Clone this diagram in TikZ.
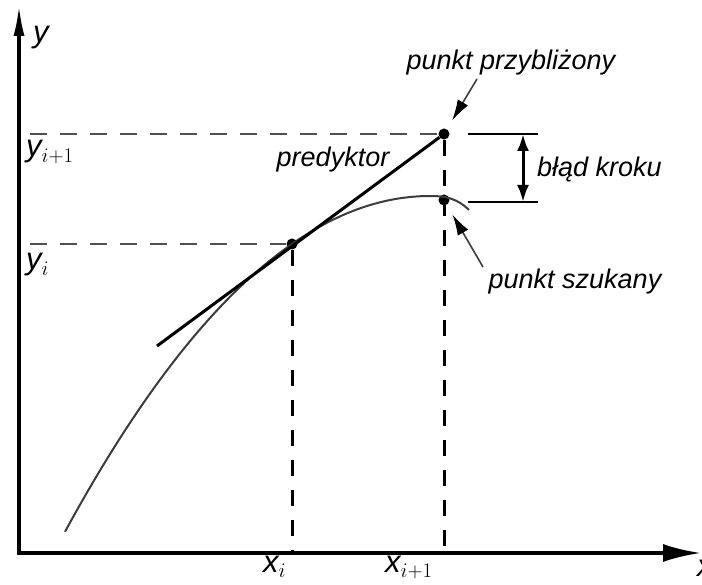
\documentclass[tikz,border=0pt]{standalone}
\usepackage{fontspec}
\setmainfont{Liberation Sans}
\usetikzlibrary{arrows.meta,calc}
\definecolor{curvec}{RGB}{60,60,60}
\definecolor{dashc}{RGB}{80,80,80}
\definecolor{ptrc}{RGB}{60,60,60}
\tikzset{
  txt/.style={font=\fontsize{27}{32}\selectfont\itshape, inner sep=0pt},
  axlbl/.style={font=\fontsize{31}{35}\selectfont\itshape, inner sep=0pt},
  dot/.style={circle, fill=black, inner sep=0pt, minimum size=11pt},
  hdash/.style={dashc, line width=1.8pt, dash pattern=on 17pt off 13pt},
  vdash/.style={black, line width=3pt, dash pattern=on 16pt off 14pt},
  ptr/.style={ptrc, line width=1.6pt, -{Latex[length=21pt,width=12pt,color=black]}},
}

\begin{document}
\begin{tikzpicture}[x=1pt, y=-1pt]
\useasboundingbox (0,0) rectangle (702,585);

% ------------------------------------------------- axes
\coordinate (O) at (19,553);
\coordinate (Ytip) at (19,4);
\coordinate (Xtip) at (701,553);
\draw[line width=3.6pt, {Latex[length=32pt,width=11pt]}-{Latex[length=38pt,width=18pt]}]
  (Ytip) -- (O) -- (Xtip);
\node[axlbl, anchor=base west] (ylab) at (33,43) {y};
\node[axlbl, anchor=base west] (xlab) at (697,576) {x};

% ------------------------------------------------- points
\node[dot] (A) at (292,244) {};
\node[dot] (P) at (444,134) {};
\node[dot] (S) at (444,200) {};

% ------------------------------------------------- guides
\coordinate (Yi1) at (30,134);
\coordinate (Yi) at (30,244);
\draw[hdash] (Yi1) -- (P);
\draw[hdash] (Yi) -- (A);
\draw[vdash] (A) -- (A |- O);
\draw[vdash] (P) -- (P |- O);
\node[axlbl, anchor=base west] (yi1lab) at (26,157) {y$_{i+1}$};
\node[axlbl, anchor=base west] (yilab) at (26,270) {y$_{i}$};
\node[axlbl, anchor=base west] (xilab) at (263,572) {x$_{i}$};
\node[axlbl, anchor=base west] (xi1lab) at (385,572) {x$_{i+1}$};

% ------------------------------------------------- curve and tangent
\draw[curvec, line width=2pt] plot[domain=65:469, samples=90]
  (\x, {196+(0.0502*(\x-430))^2+(0.0553*max(0,\x-430))^3});
\coordinate (T0) at (157,346);
\draw[line width=3pt] (T0) -- (P);
\node[txt, anchor=base] (pred) at (333,167) {predyktor};

% ------------------------------------------------- step error
\coordinate (E1a) at (468,134);
\coordinate (E1b) at (538,134);
\coordinate (E2a) at (468,202);
\coordinate (E2b) at (538,202);
\draw[line width=1.6pt] (E1a) -- (E1b);
\draw[line width=1.6pt] (E2a) -- (E2b);
\draw[line width=3pt, {Latex[length=17pt,width=12pt]}-{Latex[length=17pt,width=12pt]}]
  ($(E1b)+(-15,0)$) -- ($(E2b)+(-15,0)$);
\node[txt, anchor=base west] (err) at (537,177) {błąd kroku};

% ------------------------------------------------- pointers
\node[txt, anchor=base] (approx) at (511,70) {punkt przybliżony};
\node[txt, anchor=base] (sought) at (575,289) {punkt szukany};
\coordinate (pa) at (477,79);
\coordinate (ps) at (483,267);
\draw[ptr, shorten >=10pt] (pa) -- (P);
\draw[ptr, shorten >=11pt] (ps) -- (S);

\end{tikzpicture}
\end{document}
